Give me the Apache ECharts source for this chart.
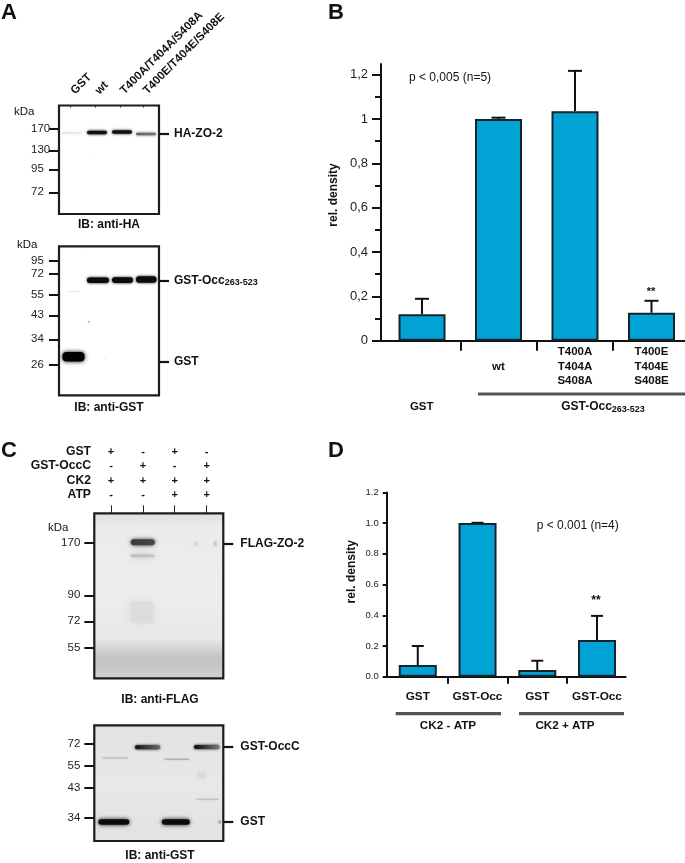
<!DOCTYPE html>
<html><head><meta charset="utf-8">
<style>html,body{margin:0;padding:0;background:#fff}#c{width:685px;height:863px}</style>
<script src="https://cdn.jsdelivr.net/npm/echarts@6/dist/echarts.min.js"></script>
</head><body><div id="c"></div>
<script>
// ---- densitometry panel B
const bLabels = ['', 'wt', 'T400A\nT404A\nS408A', 'T400E\nT404E\nS408E'];
const bMeans = [0.119, 1.0, 1.035, 0.126];
const bErrTops = [0.189, 1.006, 1.217, 0.18];
// ---- densitometry panel D
const dLabels = ['GST', 'GST-Occ', 'GST', 'GST-Occ'];
const dMeans = [0.076, 1.0, 0.043, 0.239];
const dErrTops = [0.2, 1.002, 0.104, 0.396];
// ---- blot ladders: migration distance from blot top -> kDa
const a1Ladder = [[23.5,'170'],[44.8,'130'],[63.8,'95'],[86.8,'72']];
const a2Ladder = [[14.4,'95'],[27.4,'72'],[48.7,'55'],[69,'43'],[93,'34'],[118.7,'26']];
const c1Ladder = [[29.4,'170'],[82,'90'],[108,'72'],[134.7,'55']];
const c2Ladder = [[18.7,'72'],[40.4,'55'],[62.7,'43'],[92.7,'34']];
// ---- blot right-hand labels
const a1Targets = [[27.8,'{b|HA-ZO-2}']];
const a2Targets = [[34,'{b|GST-Occ}{s|263-523}'],[115.4,'{b|GST}']];
const c1Targets = [[30,'{b|FLAG-ZO-2}']];
const c2Targets = [[21.4,'{b|GST-OccC}'],[96.4,'{b|GST}']];
// ---- lanes
const aLanes = [11.7, 36, 61, 84];
const aLaneNames = ['GST', 'wt', 'T400A/T404A/S408A', 'T400E/T404E/S408E'];
const cLanes = [16.7, 48.7, 80.4, 112.4];
const cRows = ['GST', 'GST-OccC', 'CK2', 'ATP'];
const cMarks = ['+\n-\n+\n-', '-\n+\n+\n-', '+\n-\n+\n+', '-\n+\n+\n+'];
// ---- blot bands: [x0, x1, migration centre, thickness, grey left, grey right, blur, vertical stops]
const a1Bands = [
  [3,23,27.5,1.2,'#d4d4d4','#e4e4e4',1.5],
  [28,48,27,3.4,'#111','#111',1.5],
  [53,73,26.5,3.4,'#111','#111',1.5],
  [77,97,28.5,2.6,'#666','#777',1.5],
  [30,31,47.5,1,'#e4e4e4','#e4e4e4',1]
];
const a2Bands = [
  [28,50,34,5.4,'#0a0a0a','#0a0a0a',1.5],
  [53,74,33.8,5.6,'#0a0a0a','#0a0a0a',1.5],
  [77,97.5,33.2,6.4,'#0a0a0a','#0a0a0a',1.5],
  [3.5,25.5,110.4,9.5,'#000','#000',2],
  [29,30.5,75.5,1.5,'#999','#999',1],
  [8,20,45,0.8,'#e6e6e6','#e6e6e6',1],
  [27,28,7,1,'#e0e0e0','#e0e0e0',1],
  [45,46,112,1.2,'#e4e4e4','#e4e4e4',1]
];
const c1Bands = [
  [0,129,82.5,165,'','',0,[[0,'#dfdfdf'],[0.08,'#ebebeb'],[0.5,'#eeeeee'],[0.76,'#e8e8e8'],[0.87,'#c4c4c4'],[0.93,'#c6c6c6'],[1,'#d2d2d2']]],
  [36.5,60.5,29,6,'#3c3c3c','#464646',2],
  [36.5,60.5,42.5,3,'#bcbcbc','#c4c4c4',3],
  [36,59,99,22,'#dcdcdc','#dddddd',6],
  [100,102.5,30.5,4,'#cfcfcf','#cfcfcf',2],
  [120,122.5,30.5,5,'#c4c4c4','#c4c4c4',2]
];
const c2Bands = [
  [4,35,96.6,5.5,'#0c0c0c','#0a0a0a',2],
  [67.5,95.5,96.6,5.5,'#0c0c0c','#0a0a0a',2],
  [40.7,65.7,22,4,'#111','#666',1.5],
  [99.7,125,21.8,4,'#0a0a0a','#777',1.5],
  [8,34,32.7,1,'#bdbdbd','#b4b4b4',1],
  [70,95,34,1.1,'#aaa','#aaa',1],
  [102,124,74,1,'#bcbcbc','#bcbcbc',1],
  [103,112,50,7,'#dadada','#dadada',3],
  [124,127,96.6,3,'#aaa','#aaa',1.5]
];

const INK = '#111';
const FONT = '"Liberation Sans", Arial, sans-serif';
const BLUE = '#00a3d4';

const grids = [], xAxes = [], yAxes = [], series = [];

function addBlot(o) {
  const g = grids.length;
  grids.push({left:o.left, top:o.top, width:o.w, height:o.h, show:false});
  xAxes.push({gridIndex:g, type:'value', min:0, max:o.w, position:'top',
    axisLine:{show:false}, splitLine:{show:false},
    axisTick:{show:o.laneTick>0, length:o.laneTick, inside:!!o.laneInside, customValues:o.lanes, lineStyle:{color:'#222',width:1}},
    axisLabel:{show:!!o.laneText, customValues:o.lanes, rotate:o.laneRotate||0, margin:o.laneMargin||6, interval:0,
      hideOverlap:false, lineHeight:14.5, padding:o.lanePad||0,
      fontFamily:FONT, fontSize:o.laneSize||11, fontWeight:'bold', color:INK,
      formatter:v => o.laneText ? o.laneText[o.lanes.indexOf(v)] : ''}});
  yAxes.push({gridIndex:g, type:'value', min:0, max:o.h, inverse:true, position:'left',
    axisLine:{show:false}, splitLine:{show:false},
    axisTick:{show:true, length:10, customValues:o.ladder.map(r=>r[0]), lineStyle:{color:'#111',width:2}},
    axisLabel:{show:true, customValues:o.ladder.map(r=>r[0]), margin:o.ladderMargin, align:o.ladderAlign, interval:0, hideOverlap:false,
      fontFamily:FONT, fontSize:11.5, color:'#222',
      formatter:v => (o.ladder.find(r=>r[0]===v)||[,''])[1]}});
  yAxes.push({gridIndex:g, type:'value', min:0, max:o.h, inverse:true, position:'right',
    axisLine:{show:false}, splitLine:{show:false},
    axisTick:{show:true, length:10, customValues:o.targets.map(r=>r[0]), lineStyle:{color:'#111',width:2.2}},
    axisLabel:{show:true, customValues:o.targets.map(r=>r[0]), margin:o.targetMargin, interval:0, hideOverlap:false,
      formatter:v => (o.targets.find(r=>r[0]===v)||[,''])[1],
      rich:{b:{fontFamily:FONT,fontSize:12,fontWeight:'bold',color:INK},
            s:{fontFamily:FONT,fontSize:9,fontWeight:'bold',color:INK,verticalAlign:'bottom',padding:[5,0,0,0]}}}});
  series.push({type:'custom', coordinateSystem:'cartesian2d', xAxisIndex:xAxes.length-1, yAxisIndex:yAxes.length-2,
    clip:true, silent:true, z:2, data:o.bands.map((b,i)=>[b[0],b[1],b[2],b[3],i]),
    encode:{x:[0,1], y:2},
    renderItem:(p,api)=>{
      const b=o.bands[api.value(4)];
      const a=api.coord([b[0],b[2]-b[3]/2]), z=api.coord([b[1],b[2]+b[3]/2]);
      const shape={x:a[0],y:a[1],width:z[0]-a[0],height:z[1]-a[1]};
      if (b[7]) return {type:'rect',shape,style:{fill:new echarts.graphic.LinearGradient(0,0,0,1,
        b[7].map(s=>({offset:s[0],color:s[1]})))}};
      shape.r=Math.min(b[3]/2,4);
      return {type:'rect', shape,
        style:{fill:new echarts.graphic.LinearGradient(0,0,1,0,[{offset:0,color:b[4]},{offset:1,color:b[5]}]),
          shadowBlur:b[6]*2, shadowColor:b[4]}};
    }});
  // frame drawn over the bands, from the same axes' extent
  series.push({type:'custom', coordinateSystem:'cartesian2d', xAxisIndex:xAxes.length-1, yAxisIndex:yAxes.length-2,
    clip:false, silent:true, z:5, data:[[0,0,o.w,o.h]], encode:{x:[0,2],y:[1,3]},
    renderItem:(p,api)=>{
      const a=api.coord([api.value(0),api.value(1)]), z=api.coord([api.value(2),api.value(3)]);
      return {type:'rect',shape:{x:a[0],y:a[1],width:z[0]-a[0],height:z[1]-a[1]},
        style:{fill:null,stroke:'#1c1c1c',lineWidth:2.2}};
    }});
}

function addBars(o) {
  const g = grids.length;
  grids.push({left:o.left, top:o.top, width:o.w, height:o.h, show:false});
  const xi = xAxes.length, yi = yAxes.length;
  xAxes.push({gridIndex:g, type:'value', min:o.xMin, max:o.xMax, position:'bottom',
    axisLine:{show:true,onZero:false,lineStyle:{color:INK,width:2}}, splitLine:{show:false},
    axisTick:{show:true,length:o.sepLen,customValues:[0.5,1.5,2.5],lineStyle:{color:INK,width:2}},
    axisLabel:{show:true,customValues:[0,1,2,3],interval:0,hideOverlap:false,margin:o.catMargin,
      verticalAlign:o.catVA,lineHeight:14.5,fontFamily:FONT,fontSize:o.catSize,fontWeight:'bold',color:INK,
      formatter:v=>o.labels[Math.round(v)]||''}});
  yAxes.push({gridIndex:g, type:'value', min:0, max:o.yMax, position:'left',
    axisLine:{show:true,onZero:false,lineStyle:{color:INK,width:2}}, splitLine:{show:false},
    axisTick:{show:true,length:o.majorLen,customValues:o.major,lineStyle:{color:INK,width:2}},
    axisLabel:{show:true,customValues:o.major,interval:0,hideOverlap:false,margin:o.labMargin,
      fontFamily:FONT,fontSize:o.tickSize,color:'#222',formatter:o.fmt}});
  if (o.minor) yAxes.push({gridIndex:g, type:'value', min:0, max:o.yMax, position:'left',
    axisLine:{show:false,onZero:false}, splitLine:{show:false},
    axisTick:{show:true,length:6,customValues:o.minor,lineStyle:{color:INK,width:2}},
    axisLabel:{show:false}});
  series.push({type:'bar', xAxisIndex:xi, yAxisIndex:yi, barWidth:o.barW, z:3, silent:true,
    data:o.means.map((m,i)=>[i,m]),
    itemStyle:{color:BLUE,borderColor:'#14242c',borderWidth:2}});
  series.push({type:'custom', xAxisIndex:xi, yAxisIndex:yi, z:2, silent:true, clip:false,
    data:o.means.map((m,i)=>[i,m,o.tops[i]]), encode:{x:0,y:[1,2]},
    renderItem:(p,api)=>{
      const x=api.value(0), lo=api.coord([x,api.value(1)]), hi=api.coord([x,api.value(2)]);
      const st={stroke:INK,lineWidth:2,fill:null};
      return {type:'group',children:[
        {type:'line',shape:{x1:lo[0],y1:lo[1],x2:hi[0],y2:hi[1]},style:st},
        {type:'line',shape:{x1:hi[0]-o.cap/2,y1:hi[1],x2:hi[0]+o.cap/2,y2:hi[1]},style:st}]};
    }});
}

addBars({left:381,top:64,w:304,h:276.7,xMin:-0.536,xMax:3.438,yMax:1.248,sepLen:10,catMargin:26,catVA:'middle',catSize:11.5,
  labels:bLabels,major:[0,0.2,0.4,0.6,0.8,1,1.2],minor:[0.1,0.3,0.5,0.7,0.9,1.1],majorLen:9,labMargin:13,tickSize:13,
  fmt:v=>String(Math.round(v*10)/10).replace('.',','),means:bMeans,tops:bErrTops,barW:47,cap:14});
addBars({left:386.7,top:492.4,w:239,h:184.3,xMin:-0.52,xMax:3.48,yMax:1.2,sepLen:7,catMargin:13,catVA:'top',catSize:11.8,
  labels:dLabels,major:[0,0.2,0.4,0.6,0.8,1,1.2],majorLen:4,labMargin:8,tickSize:9.5,
  fmt:v=>v.toFixed(1),means:dMeans,tops:dErrTops,barW:38,cap:12});

addBlot({left:59,top:105.5,w:100,h:108.5,lanes:aLanes,laneTick:2,laneInside:true,ladderMargin:28,ladderAlign:'left',
  laneText:aLaneNames,laneRotate:45,laneMargin:11,lanePad:[0,0,0,3],laneSize:11.6,targetMargin:15,ladder:a1Ladder,targets:a1Targets,bands:a1Bands});
addBlot({left:59,top:246.3,w:100,h:149,lanes:aLanes,laneTick:0,targetMargin:15,ladderMargin:28,ladderAlign:'left',ladder:a2Ladder,targets:a2Targets,bands:a2Bands});
addBlot({left:94.3,top:513.3,w:129,h:165,lanes:cLanes,laneTick:8,ladderMargin:14,ladderAlign:'right',
  laneText:cMarks,laneMargin:11,laneSize:11,targetMargin:17,ladder:c1Ladder,targets:c1Targets,bands:c1Bands});
addBlot({left:94.3,top:725.3,w:129,h:115.7,lanes:cLanes,laneTick:0,targetMargin:17,ladderMargin:14,ladderAlign:'right',ladder:c2Ladder,targets:c2Targets,
  bands:[[0,129,58,116,'','',0,[[0,'#e2e2e2'],[0.5,'#e8e8e8'],[1,'#e2e2e2']]]].concat(c2Bands)});

const txt=(x,y,text,size,weight,align,extra)=>Object.assign({type:'text',x,y,z:20,silent:true,
  style:{text,fontFamily:FONT,fontSize:size,fontWeight:weight,fill:INK,align:align,verticalAlign:'middle'}},extra||{});
const bar=(x,y,w)=>({type:'rect',z:20,silent:true,shape:{x,y,width:w,height:3.2},style:{fill:'#555'}});

const graphic=[
  txt(1,13,'A',22,'bold','left'), txt(328,13,'B',22,'bold','left'),
  txt(1,451,'C',22,'bold','left'), txt(328,451,'D',22,'bold','left'),
  txt(14,112,'kDa',11.5,'normal','left',{}), txt(17,244.5,'kDa',11.5,'normal','left',{}), txt(48,528,'kDa',11.5,'normal','left',{}),
  txt(109,225,'IB: anti-HA',12,'bold','center'), txt(109,407.5,'IB: anti-GST',12,'bold','center'),
  txt(160,700,'IB: anti-FLAG',12,'bold','center'), txt(160,856,'IB: anti-GST',12,'bold','center'),
  ...cRows.map((r,i)=>txt(91,[451.7,466,480.7,495][i],r,12.2,'bold','right')),
  txt(409,78,'p < 0,005 (n=5)',12,'normal','left'),
  txt(651,292,'**',11,'bold','center'),
  txt(334,195,'rel. density',12,'bold','center',{rotation:Math.PI/2}),
  bar(478,392.4,207),
  txt(421.7,407,'GST',11.5,'bold','center'),
  {type:'text',x:603,y:407,z:20,silent:true,style:{rich:{b:{fontFamily:FONT,fontSize:12,fontWeight:'bold',fill:INK},s:{fontFamily:FONT,fontSize:9,fontWeight:'bold',fill:INK,padding:[5,0,0,0]}},text:'{b|GST-Occ}{s|263-523}',align:'center',verticalAlign:'middle'}},
  txt(536.7,526,'p < 0.001 (n=4)',12,'normal','left'),
  txt(596,601,'**',12,'bold','center'),
  txt(352,571.7,'rel. density',12,'bold','center',{rotation:Math.PI/2}),
  bar(395.7,712,105.3), bar(519,712,105),
  txt(448,725.7,'CK2 - ATP',11.7,'bold','center'),
  txt(565,725.7,'CK2 + ATP',11.7,'bold','center')
];

const chart=echarts.init(document.getElementById('c'),null,{renderer:'canvas'});
chart.setOption({animation:false,backgroundColor:'#fff',grid:grids,xAxis:xAxes,yAxis:yAxes,series,graphic});
</script></body></html>
